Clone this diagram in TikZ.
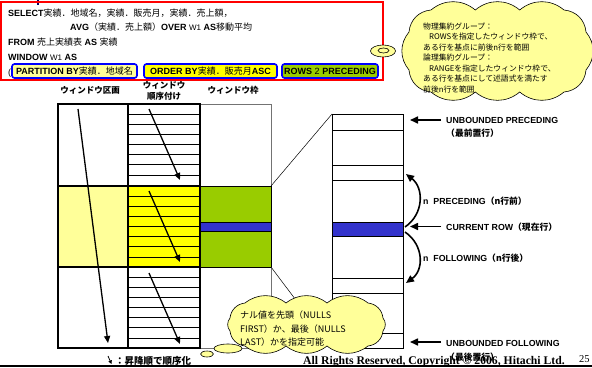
\documentclass[tikz,border=0pt]{standalone}
\usepackage{fontspec}
\setmainfont{Liberation Sans}
\newfontfamily\jp{Noto Sans CJK JP}
\newfontfamily\serifc{Liberation Serif}
\usetikzlibrary{arrows.meta}
\definecolor{pyel}{HTML}{FFFF99}
\definecolor{gyel}{HTML}{FFFF00}
\definecolor{grn}{HTML}{99CC00}
\definecolor{blu}{HTML}{3333CC}
\definecolor{boxblue}{HTML}{0000FF}
\newcommand\J[1]{{\jp #1}}
\begin{document}
\begin{tikzpicture}[x=1pt,y=-1pt,
  sql/.style={anchor=base west,inner sep=0pt,font=\fontsize{9}{11}\selectfont},
  sqlbox/.style={draw=boxblue,line width=1.6pt,rounded corners=2.5pt,inner sep=0pt,minimum height=14pt,text height=7pt,text depth=0pt,font=\fontsize{9}{11}\selectfont},
  hdr/.style={inner sep=0pt,font=\jp\bfseries\fontsize{8.5}{11}\selectfont,align=center},
  arr/.style={line width=1.3pt,-{Triangle[length=7pt,width=6pt]}},
  arrb/.style={line width=1.6pt,-{Triangle[length=8pt,width=7pt]}},
  lbl/.style={anchor=base west,inner sep=0pt,font=\bfseries\fontsize{8.8}{10}\selectfont},
  cloudtxt/.style={anchor=base west,inner sep=0pt,font=\jp\fontsize{7.8}{10}\selectfont},
  cloudtxtb/.style={anchor=base west,inner sep=0pt,font=\jp\fontsize{9}{10}\selectfont},
  bubble/.style={draw=black,fill=pyel,line width=0.6pt},
  pa/.style={bend left=40},
  pb/.style={bend left=38},
]
\useasboundingbox (0,0) rectangle (592,367);
\fill[white] (0,0) rectangle (592,367);

% top mark
\draw[line width=1.5pt,color=blue!40!black] (38,0) -- (38,5);

% SQL frame
\draw[red,line width=1.2pt] (1,2) rectangle (383,80);
\node[sql] (l1) at (8,16.7) {\textbf{SELECT}\J{実績．地域名，実績．販売月，実績．売上額，}};
\node[sql] (l2) at (70,30.7) {\textbf{AVG}\J{（実績．売上額）}\textbf{OVER} {\fontsize{8}{9}\selectfont W1} \textbf{AS}\J{移動平均}};
\node[sql] (l3) at (8,45.7) {\textbf{FROM} \J{売上実績表} \textbf{AS} \J{実績}};
\node[sql] (l4) at (8,60) {\textbf{WINDOW} {\fontsize{8}{9}\selectfont W1} \textbf{AS}};
\node[sql] (l5) at (8,75) {(};
\node[sqlbox,fill=pyel,minimum width=125pt] (bp) at (74.5,71) {\textbf{PARTITION BY}\J{実績．地域名}};
\node[sqlbox,fill=gyel,minimum width=133pt] (bo) at (210.5,71) {\textbf{ORDER BY}\J{実績．販売月}\textbf{ASC}};
\node[sqlbox,fill=grn,minimum width=96pt] (br) at (330,71) {\textbf{ROWS} 2 \textbf{PRECEDING}};

% headers
\node[hdr] (h1) at (90,90) {ウィンドウ区画};
\node[hdr] (h2) at (164,90.5) {ウィンドウ\\順序付け};
\node[hdr] (h3) at (233,90) {ウィンドウ枠};

% grid fills
\fill[pyel] (58,186) rectangle (128,267);
\fill[gyel] (128,186) rectangle (200,267);
\fill[grn] (200,186) rectangle (271,267);
\fill[blu] (200,222) rectangle (271,231);
\draw[black!55,line width=0.6pt] (200,104) -- (271,104) -- (271,348) -- (200,348);
\draw[line width=0.7pt] (200,186) -- (271,186) (200,267) -- (271,267) (200,222) -- (271,222) (200,231) -- (271,231) (271,186) -- (271,267);
\foreach \t in {104,186,267}
  \foreach \k in {1,...,7}
    \draw[line width=1.1pt] (128,\t+\k*10.15) -- (200,\t+\k*10.15);
\draw[line width=2pt] (58,104) rectangle (200,348);
\draw[line width=2pt] (128,104) -- (128,348) (58,186) -- (200,186) (58,267) -- (200,267);

% grid arrows
\coordinate (a1s) at (78,109); \coordinate (a1e) at (108,343);
\coordinate (a2s) at (149,109); \coordinate (a2e) at (180,180);
\coordinate (a3s) at (149,191); \coordinate (a3e) at (180,262);
\coordinate (a4s) at (149,273); \coordinate (a4e) at (180,344);
\draw[arr] (a1s) -- (a1e);
\draw[arr] (a2s) -- (a2e);
\draw[arr] (a3s) -- (a3e);
\draw[arr] (a4s) -- (a4e);

% zoom lines
\coordinate (z1) at (271,186); \coordinate (z2) at (332,114);
\coordinate (z3) at (271,267); \coordinate (z4) at (332,348);
\draw[line width=0.5pt] (z1) -- (z2) (z3) -- (z4);

% big frame box
\fill[white] (332,114) rectangle (403,348);
\fill[blu] (332,222) rectangle (403,236);
\draw[line width=0.7pt] (332,114) rectangle (403,348);
\foreach \yy in {130,165,180,222,236,278,293,333}
  \draw[line width=0.7pt] (332,\yy) -- (403,\yy);

% right arrows
\coordinate (u1s) at (441,120); \coordinate (u1e) at (410,120);
\coordinate (c1s) at (441,226.5); \coordinate (c1e) at (410,226.5);
\coordinate (u2s) at (441,342); \coordinate (u2e) at (410,342);
\draw[arrb] (u1s) -- (u1e);
\draw[arrb] (c1s) -- (c1e);
\draw[arrb] (u2s) -- (u2e);
\coordinate (p0) at (405,227); \coordinate (p1) at (406,174);
\coordinate (f0) at (405,232); \coordinate (f1) at (406,283);
\draw[arrb] (p0) .. controls (424,214) and (424,188) .. (p1);
\draw[arrb] (f0) .. controls (424,245) and (424,270) .. (f1);

\node[lbl] (t1) at (446,123) {UNBOUNDED PRECEDING};
\node[lbl] (t2) at (446,136.5) {\J{（最前置行）}};
\node[lbl] (t3) at (423,204) {n\ \ PRECEDING\J{（n行前）}};
\node[lbl] (t4) at (446,230) {CURRENT ROW\J{（現在行）}};
\node[lbl] (t5) at (423,261) {n\ \ FOLLOWING\J{（n行後）}};
\node[lbl] (t6) at (446,346.5) {UNBOUNDED FOLLOWING};
\node[lbl] (t7) at (446,360) {\J{（最後置行）}};

% cloud 1
\draw[bubble] (383,51) ellipse [x radius=12.5, y radius=6];
\draw[bubble] (383.5,50.5) ellipse [x radius=5.5, y radius=2.5];
\draw[bubble] (409,32) to[pa] (431,10) to[pa] (475.3,10) to[pa] (519.7,10) to[pa] (564,10)
  to[pa] (586,32) to[pa] (586,70) to[pa] (564,92) to[pa] (519.7,92) to[pa] (475.3,92)
  to[pa] (431,92) to[pa] (409,70) to[pa] (409,32) -- cycle;
\node[cloudtxt] (k1) at (423,29) {物理集約グループ：};
\node[cloudtxt] (k2) at (429,39.5) {ROWSを指定したウィンドウ枠で、};
\node[cloudtxt] (k3) at (423,50) {ある行を基点に前後n行を範囲};
\node[cloudtxt] (k4) at (423,60.5) {論理集約グループ：};
\node[cloudtxt] (k5) at (429,71) {RANGEを指定したウィンドウ枠で、};
\node[cloudtxt] (k6) at (423,81.5) {ある行を基点にして述語式を満たす};
\node[cloudtxt] (k7) at (423,92) {前後n行を範囲};

% cloud 2
\draw[bubble] (207,354) ellipse [x radius=6.5, y radius=3];
\draw[bubble] (228,348.5) ellipse [x radius=14, y radius=4.5];
\draw[bubble] (230,318) to[pb] (245,303) to[pb] (286,303) to[pb] (327,303) to[pb] (368,303)
  to[pb] (383,318) to[pb] (383,331) to[pb] (368,346) to[pb] (327,346) to[pb] (286,346)
  to[pb] (245,346) to[pb] (230,331) to[pb] (230,318) -- cycle;
\node[cloudtxtb] (m1) at (240,318.5) {ナル値を先頭（NULLS};
\node[cloudtxtb] (m2) at (240,332.5) {FIRST）か、最後（NULLS};
\node[cloudtxtb] (m3) at (240,345.5) {LAST）かを指定可能};

% legend
\coordinate (g1) at (108,356); \coordinate (g2) at (111.5,364);
\draw[line width=0.8pt,-{Triangle[length=3.5pt,width=3.5pt]}] (g1) -- (g2);
\node[anchor=base west,inner sep=0pt,font=\jp\bfseries\fontsize{9.5}{10}\selectfont] (lg) at (115,364) {：昇降順で順序化};

% footer
\draw[line width=1.5pt] (0,365.8) -- (592,365.8);
\node[anchor=base west,inner sep=0pt,font=\serifc\bfseries\fontsize{11.7}{12}\selectfont] (cp) at (303,364) {All Rights Reserved, Copyright © 2006,\ Hitachi Ltd.};
\node[anchor=base west,inner sep=0pt,font=\serifc\fontsize{10.5}{11}\selectfont] (pg) at (579,362) {25};
\end{tikzpicture}
\end{document}
